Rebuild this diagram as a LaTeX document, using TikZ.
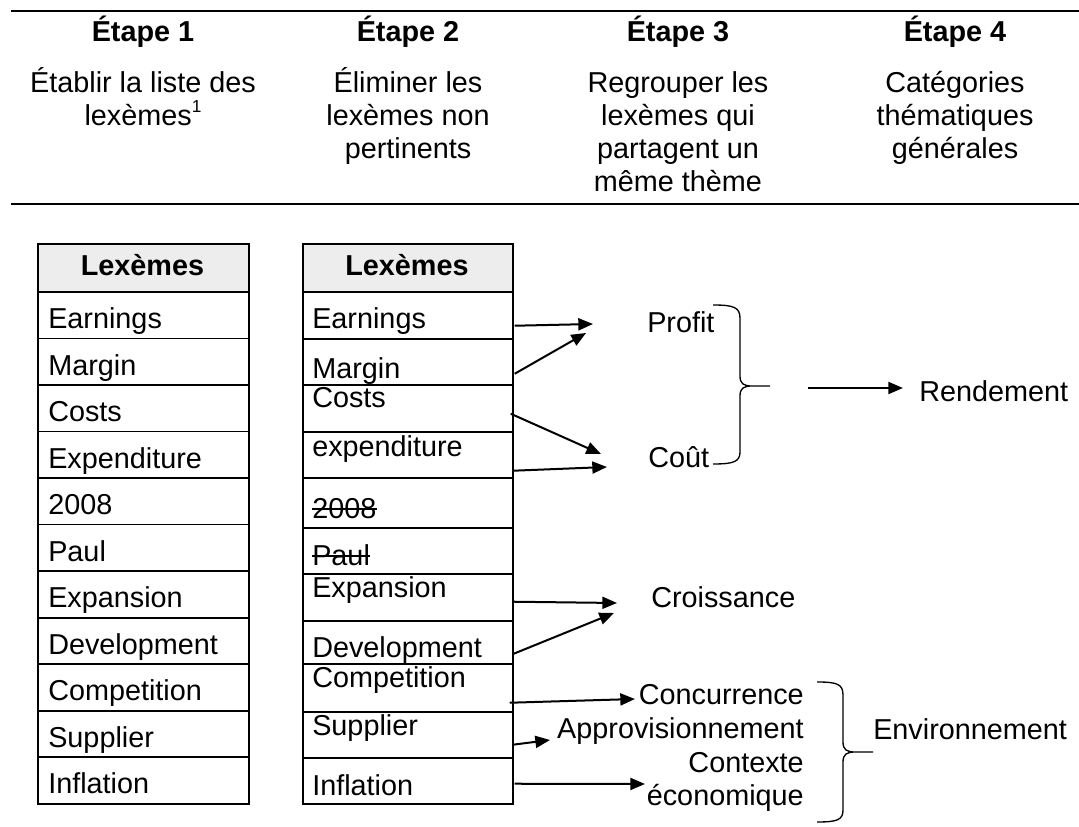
\documentclass[tikz,border=0pt]{standalone}
\usepackage{fontspec}
\setmainfont{Liberation Sans}
\usetikzlibrary{arrows.meta,calc}
\newcommand{\footmark}[1]{\raisebox{0.42em}{\fontsize{13}{13}\selectfont #1}}
\begin{document}
\begin{tikzpicture}[x=0.75pt,y=-0.75pt,
  txt/.style={inner sep=0pt, font=\fontsize{21.6}{24.75}\selectfont},
  ttl/.style={inner sep=0pt, font=\fontsize{21.6}{24.75}\selectfont\bfseries, anchor=base},
  body/.style={txt, align=center, anchor=north},
  cellbox/.style={draw, line width=1.3pt, inner sep=0pt, anchor=north west},
  headcell/.style={cellbox, fill=black!7, minimum height=36pt},
  word/.style={txt, anchor=base west},
  lbl/.style={txt, anchor=base west},
  arr/.style={line width=1.5pt, -{Triangle[length=11pt,width=9pt]}},
  rulestyle/.style={line width=1.6pt},
  bracestyle/.style={line width=1pt},
  strike/.style={line width=1.1pt}
]
\useasboundingbox (0,0) rectangle (1079,827);

% header band
\draw[rulestyle] (11,11) -- (1079,11);
\draw[rulestyle] (11,204) -- (1079,204);

\node[ttl] (s1) at (143,42) {Étape 1};
\node[ttl] (s2) at (408,42) {Étape 2};
\node[ttl] (s3) at (678,42) {Étape 3};
\node[ttl] (s4) at (955,42) {Étape 4};

\node[body] (d1) at (143,63) {\rule{0pt}{1em}Établir la liste des\\lexèmes\footmark{1}};
\node[body] (d2) at (408,63) {\rule{0pt}{1em}Éliminer les\\lexèmes non\\pertinents};
\node[body] (d3) at (678,63) {\rule{0pt}{1em}Regrouper les\\lexèmes qui\\partagent un\\même thème};
\node[body] (d4) at (955,63) {\rule{0pt}{1em}Catégories\\thématiques\\générales};

% first table: all lexemes
\node[headcell, minimum width=158.25pt] (ha) at (37,243) {};
\node[ttl] (hat) at (142.5,276) {Lexèmes};
\foreach \w [count=\i] in {Earnings,Margin,Costs,Expenditure,2008,Paul,Expansion,Development,Competition,Supplier,Inflation}{
  \pgfmathsetmacro\ytop{291+46.545*(\i-1)}
  \node[cellbox, minimum width=158.25pt, minimum height=34.91pt] (a\i) at (37,\ytop) {};
  \node[word] (aw\i) at (48,{\ytop+37.5}) {\w};
}

% second table: relevant lexemes
\node[headcell, minimum width=157.5pt] (hb) at (302,243) {};
\node[ttl] (hbt) at (407,276) {Lexèmes};
\foreach \ytop/\ybot/\bl/\w [count=\i] in {
    291/338/329/Earnings,
    338/384/379/Margin,
    384/431/407/Costs,
    431/477/456/expenditure,
    477/527/518/2008,
    527/573/565/Paul,
    573/620/597/Expansion,
    620/663/657/Development,
    663/711/687/Competition,
    711/757/735/Supplier,
    757/803/795/Inflation}{
  \pgfmathsetmacro\hh{(\ybot-\ytop)*0.75}
  \node[cellbox, minimum width=157.5pt, minimum height=\hh pt] (b\i) at (302,\ytop) {};
  \node[word] (bw\i) at (312,\bl) {\w};
}
\draw[strike] ($(bw5.base west)+(0,-9)$) -- ($(bw5.base east)+(0,-9)$);
\draw[strike] ($(bw6.base west)+(0,-9)$) -- ($(bw6.base east)+(0,-9)$);

% themes and categories
\node[lbl] (profit) at (647,333) {Profit};
\node[lbl] (cout) at (648,468) {Coût};
\node[lbl] (rend) at (919,402) {Rendement};
\node[lbl] (crois) at (651,607) {Croissance};
\node[txt, anchor=base east] (conc) at (804,704) {Concurrence};
\node[txt, anchor=base east] (appro) at (804,738) {Approvisionnement};
\node[txt, align=right, anchor=north east] (ctx) at (804,743.2) {\rule{0pt}{1em}Contexte\\économique};
\node[lbl] (env) at (873,739) {Environnement};

% arrow heads
\coordinate (p1) at (593,324);
\coordinate (p2) at (586,333);
\coordinate (c1) at (601,454);
\coordinate (c2) at (607,467);
\coordinate (g1) at (617,603);
\coordinate (g2) at (614,613);
\coordinate (e1) at (635,699);
\coordinate (e2) at (550,740);
\coordinate (e3) at (645,784);
\coordinate (r1) at (808,388);
\coordinate (r2) at (903,388);

\draw[arr] ($(b1.south east)+(1,-14)$) -- (p1);
\draw[arr] ($(b2.south east)+(1,-12)$) -- (p2);
\draw[arr] ($(b3.south east)+(-3,-19)$) -- (c1);
\draw[arr] ($(b4.south east)+(-1,-8)$) -- (c2);
\draw[arr] ($(b7.south east)+(0,-20)$) -- (g1);
\draw[arr] ($(b8.south east)+(0,-11)$) -- (g2);
\draw[arr] ($(b9.south east)+(-4,-10)$) -- (e1);
\draw[arr] ($(b10.south east)+(-1,-14)$) -- (e2);
\draw[arr] ($(b11.south east)+(1,-21)$) -- (e3);
\draw[arr] (r1) -- (r2);

% braces
\draw[bracestyle] (713,305) .. controls (733,305) and (740,307) .. (740,318)
  -- (740,376) .. controls (740,384) and (744,386) .. (752,386) -- (770,386)
  -- (752,386) .. controls (744,386) and (740,388) .. (740,396)
  -- (740,452) .. controls (740,462) and (733,464) .. (713,464);
\draw[bracestyle] (817,682) .. controls (837,682) and (843,684) .. (843,695)
  -- (843,742) .. controls (843,750) and (847,752) .. (855,752) -- (873,752)
  -- (855,752) .. controls (847,752) and (843,754) .. (843,762)
  -- (843,810) .. controls (843,820) and (837,822) .. (817,822);
\end{tikzpicture}
\end{document}
